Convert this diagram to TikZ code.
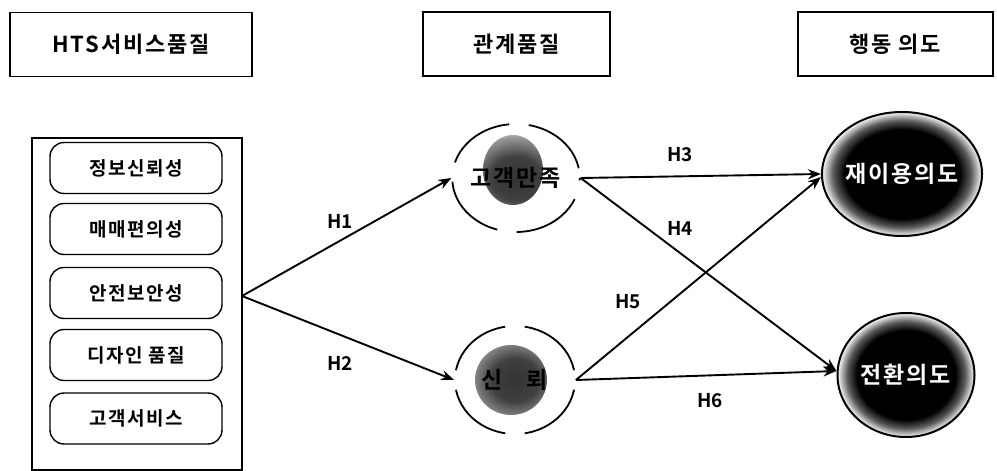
\documentclass[tikz,border=0pt]{standalone}
\usepackage{fontspec}
\newfontfamily\kb{Noto Sans CJK KR Bold}[LetterSpace=8]
\newfontfamily\kbh{Noto Sans CJK KR Bold}
\usetikzlibrary{shapes.geometric,arrows.meta}
\pgfdeclareradialshading{blobR}{\pgfpointorigin}{color(0bp)=(black); color(18bp)=(black); color(21.5bp)=(black!65); color(24bp)=(black!20); color(25bp)=(white); color(50bp)=(white)}
\pgfdeclareradialshading{blobM}{\pgfpointorigin}{color(0bp)=(black!80); color(10bp)=(black!75); color(19bp)=(black!40); color(25bp)=(white); color(50bp)=(white)}
\begin{document}
\begin{tikzpicture}[x=1pt,y=-1pt,
  hdr/.style={draw, line width=1.8pt, minimum height=64pt, inner sep=0pt, font=\kb\fontsize{22}{22}\selectfont},
  item/.style={draw, line width=1.4pt, rounded corners=14pt, minimum width=172pt, minimum height=51pt, inner sep=0pt, font=\kb\fontsize{19}{19}\selectfont},
  mid/.style={ellipse, inner sep=0pt, minimum width=120pt, minimum height=108pt, draw, line width=1.8pt,
     dash pattern=on 70pt off 19.6pt, dash phase=79.8pt, font=\kb\fontsize{23}{23}\selectfont},
  big/.style={ellipse, inner sep=0pt, draw, line width=2pt, shade, shading=blobR, text=white, font=\kb\fontsize{23}{23}\selectfont},
  arr/.style={line width=1.9pt, -{Stealth[length=13pt,width=10pt]}},
  hl/.style={font=\kbh\fontsize{19}{19}\selectfont, inner sep=0pt}
]
\useasboundingbox (0,0) rectangle (997,471);
\fill[white] (0,0) rectangle (997,471);

% headers
\node[hdr, minimum width=242pt] (h1) at (131,44.5) {HTS서비스품질};
\node[hdr, minimum width=187pt] (h2) at (516.5,44) {관계품질};
\node[hdr, minimum width=195pt] (h3) at (895.5,44) {행동 의도};

% left container
\node[draw, line width=1.6pt, minimum width=210pt, minimum height=332pt, inner sep=0pt] (lbox) at (137,304) {};
\node[item] (i1) at (136,168) {정보신뢰성};
\node[item] (i2) at (136,229) {매매편의성};
\node[item] (i3) at (136,293) {안전보안성};
\node[item] (i4) at (136,355) {디자인 품질};
\node[item] (i5) at (136,418.5) {고객서비스};
\coordinate (src) at (242,296);

% middle circles
\node[mid, path picture={\shade[shading=blobM] ([xshift=-3pt,yshift=8pt]path picture bounding box.center) ellipse [x radius=30, y radius=35];}] (sat) at (516,178) {고객만족};
\node[mid, path picture={\shade[shading=blobM] ([xshift=-4pt,yshift=0pt]path picture bounding box.center) ellipse [x radius=36, y radius=35];}] (tru) at (515,380) {신\hspace{24pt}뢰};

% right circles
\node[big, minimum width=145pt, minimum height=124pt] (rev) at (902,174) {재이용의도};
\node[big, minimum width=137pt, minimum height=124pt] (wom) at (906,375) {전환의도};

% connectors
\draw[arr] (src) -- (sat.west);
\draw[arr] (src) -- (tru.west);
\draw[arr] (sat.east) -- (rev.west);
\draw[arr] (sat.east) -- ([yshift=4pt]wom.west);
\draw[arr] (tru.east) -- ([yshift=-3pt]rev.west);
\draw[arr] (tru.east) -- ([yshift=4pt]wom.west);

% labels
\node[hl] (l1) at (340,221) {H1};
\node[hl] (l2) at (340,363) {H2};
\node[hl] (l3) at (680,155) {H3};
\node[hl] (l4) at (680,228) {H4};
\node[hl] (l5) at (628,302) {H5};
\node[hl] (l6) at (710,401) {H6};
\end{tikzpicture}
\end{document}
